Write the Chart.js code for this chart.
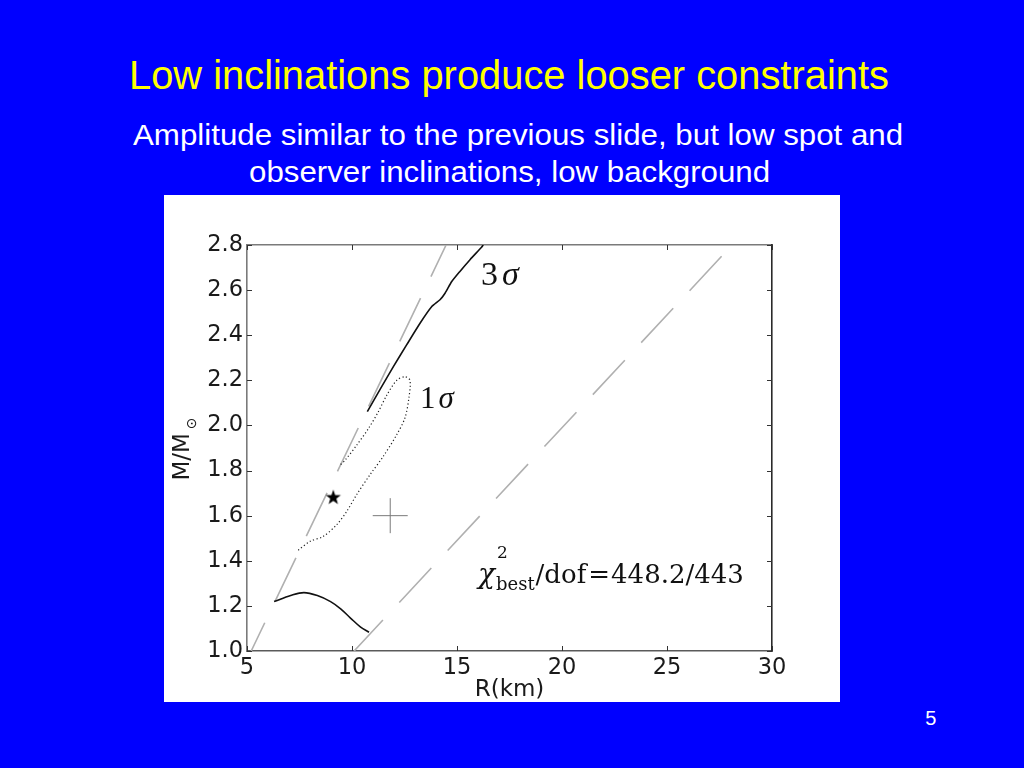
<!DOCTYPE html>
<html>
<head>
<meta charset="utf-8">
<script src="https://cdn.jsdelivr.net/npm/chart.js@4.4.0/dist/chart.umd.min.js"></script>
<style>
html,body{margin:0;padding:0;}
body{width:1024px;height:768px;background:#0000FF;position:relative;overflow:hidden;font-family:"Liberation Sans",Arial,sans-serif;}
.t{position:absolute;white-space:nowrap;transform-origin:0 0;line-height:1;font-family:"Liberation Sans",Arial,sans-serif;}
#panel{position:absolute;left:164px;top:195px;width:676px;height:507px;background:#fff;}
#c{display:block;}
</style>
</head>
<body>
<div class="t" id="title" style="color:#ffff00;font-size:41px">Low inclinations produce looser constraints</div>
<div class="t" id="sub1" style="color:#ffffff;font-size:30px">Amplitude similar to the previous slide, but low spot and</div>
<div class="t" id="sub2" style="color:#ffffff;font-size:30px">observer inclinations, low background</div>
<div class="t" id="pg" style="color:#ffffff;font-size:20px">5</div>
<div id="panel"><canvas id="c" width="676" height="507"></canvas></div>
<script>
// ---------- data ----------
const xTicks = [5, 10, 15, 20, 25, 30];
const yTicks = [1.0, 1.2, 1.4, 1.6, 1.8, 2.0, 2.2, 2.4, 2.6, 2.8];

const leftLimitR = [14.48, 5.2];
const leftLimitM = [2.8, 1.0];
const rightLimitR = [27.6, 10.1];
const rightLimitM = [2.75, 1.0];

const sigma3UpperR = [10.73, 11.33, 11.97, 12.6, 13.24, 13.8, 14.19, 14.43, 14.75, 15.14, 15.62, 16.17, 16.25];
const sigma3UpperM = [2.061, 2.159, 2.261, 2.357, 2.453, 2.527, 2.557, 2.586, 2.638, 2.683, 2.735, 2.79, 2.8];

const sigma3LowerR = [6.29, 7.08, 7.71, 8.35, 8.98, 9.46, 9.94, 10.41, 10.81];
const sigma3LowerM = [1.219, 1.246, 1.259, 1.246, 1.219, 1.187, 1.145, 1.106, 1.083];

const sigma1R = [7.44, 8.0, 8.63, 9.27, 9.75, 10.22, 10.86, 11.49, 12.13, 12.52, 12.71, 12.76, 12.52, 12.13, 11.65, 11.25, 10.78, 10.22, 9.67, 9.43];
const sigma1M = [1.447, 1.486, 1.508, 1.56, 1.619, 1.693, 1.782, 1.863, 1.959, 2.033, 2.122, 2.2, 2.216, 2.2, 2.133, 2.06, 1.986, 1.912, 1.846, 1.824];

const starR = [9.11];
const starM = [1.68];
const bestR = [11.82];
const bestM = [1.60];

const label3 = {R: 16.14, M: 2.623};
const label1 = {R: 13.24, M: 2.078};
const labelChi = {R: 16.0, M: 1.302};

// ---------- slide text placement ----------
function place(id, left, baseline, inkW, centerX) {
  const el = document.getElementById(id);
  const fs = parseFloat(getComputedStyle(el).fontSize);
  const g = document.createElement('canvas').getContext('2d');
  g.font = fs + 'px "Liberation Sans"';
  const m = g.measureText(el.textContent);
  const ink = m.actualBoundingBoxLeft + m.actualBoundingBoxRight;
  const s = inkW ? inkW / ink : 1;
  let l;
  if (centerX !== undefined) {
    l = centerX - s * ((m.actualBoundingBoxRight - m.actualBoundingBoxLeft) / 2);
  } else {
    l = left + m.actualBoundingBoxLeft * s;
  }
  el.style.left = l + 'px';
  el.style.top = (baseline - 0.8467 * fs) + 'px';
  el.style.transform = 'scaleX(' + s + ')';
}
place('title', 131.5, 89.3, 756.5);
place('sub1', 133.3, 145, 768.4);
place('sub2', 250, 182, 518.3);
place('pg', 0, 724.5, null, 930.7);

// ---------- chart ----------
const zip = (a, b) => a.map((v, i) => ({x: v, y: b[i]}));

function starImg(r) {
  const c = document.createElement('canvas');
  const s = Math.ceil(r * 2 + 2);
  c.width = c.height = s;
  const g = c.getContext('2d');
  g.beginPath();
  for (let i = 0; i < 10; i++) {
    const rr = i % 2 ? r * 0.4 : r;
    const a = -Math.PI / 2 + i * Math.PI / 5;
    g.lineTo(s / 2 + rr * Math.cos(a), s / 2 + rr * Math.sin(a));
  }
  g.closePath();
  g.fillStyle = '#000';
  g.fill();
  return c;
}

const dashGray = '#b0b0b0';

const decor = {
  id: 'decor',
  afterDraw(chart) {
    const {ctx, chartArea: a, scales} = chart;
    const sx = scales.x, sy = scales.y;
    ctx.save();
    // inward tick marks on all four sides
    ctx.strokeStyle = '#333';
    ctx.lineWidth = 1;
    ctx.beginPath();
    xTicks.forEach(v => {
      const px = Math.round(sx.getPixelForValue(v)) + 0.5;
      ctx.moveTo(px, a.bottom); ctx.lineTo(px, a.bottom - 5);
      ctx.moveTo(px, a.top); ctx.lineTo(px, a.top + 5);
    });
    yTicks.forEach(v => {
      const py = Math.round(sy.getPixelForValue(v)) + 0.5;
      ctx.moveTo(a.left, py); ctx.lineTo(a.left + 5, py);
      ctx.moveTo(a.right, py); ctx.lineTo(a.right - 5, py);
    });
    ctx.stroke();

    ctx.fillStyle = '#111';
    ctx.textBaseline = 'alphabetic';
    ctx.textAlign = 'left';
    // 3 sigma
    let x = sx.getPixelForValue(label3.R), y = sy.getPixelForValue(label3.M);
    ctx.font = '34px "Liberation Serif"';
    ctx.fillText('3', x, y);
    let w = ctx.measureText('3').width;
    ctx.font = 'italic 34px "Liberation Serif"';
    ctx.fillText('σ', x + w + 4, y);
    // 1 sigma
    x = sx.getPixelForValue(label1.R); y = sy.getPixelForValue(label1.M);
    ctx.font = '31px "Liberation Serif"';
    ctx.fillText('1', x, y);
    w = ctx.measureText('1').width;
    ctx.font = 'italic 31px "Liberation Serif"';
    ctx.fillText('σ', x + w + 3, y);
    // chi^2 text
    x = sx.getPixelForValue(labelChi.R); y = sy.getPixelForValue(labelChi.M);
    ctx.font = 'italic 28px "DejaVu Serif"';
    ctx.fillText('χ', x, y);
    x += ctx.measureText('χ').width + 1;
    ctx.font = '17px "DejaVu Serif"';
    ctx.fillText('2', x + 1, y - 25);
    ctx.font = '18px "DejaVu Serif"';
    ctx.fillText('best', x, y + 7);
    x += ctx.measureText('best').width + 1;
    ctx.font = '26px "DejaVu Serif"';
    ctx.fillText('/dof', x, y);
    x += ctx.measureText('/dof').width + 2;
    ctx.fillText('=', x, y);
    x += ctx.measureText('=').width + 1;
    ctx.fillText('448.2/443', x, y);

    // y-axis title M/M_sun
    const cy = (a.top + a.bottom) / 2;
    ctx.translate(a.left - 58, cy);
    ctx.rotate(-Math.PI / 2);
    ctx.fillStyle = '#1a1a1a';
    ctx.font = '23px "DejaVu Sans"';
    const wm = ctx.measureText('M/M').width;
    ctx.font = '14px "DejaVu Sans"';
    const wo = ctx.measureText('⊙').width;
    const start = -(wm + 4 + wo) / 2 - 1;
    ctx.font = '23px "DejaVu Sans"';
    ctx.fillText('M/M', start, 0);
    ctx.font = '14px "DejaVu Sans"';
    ctx.fillText('⊙', start + wm + 4, 6.5);
    ctx.restore();
  }
};

const tickFont = {family: 'DejaVu Sans', size: 22.5};

new Chart(document.getElementById('c'), {
  type: 'scatter',
  data: {
    datasets: [
      {data: zip(starR, starM), pointStyle: starImg(8), pointRadius: 8, showLine: false},
      {data: zip(bestR, bestM), pointStyle: 'cross', pointRadius: 17.5, borderColor: '#7a7a7a', borderWidth: 1, showLine: false},
      {data: zip(sigma1R, sigma1M), showLine: true, pointRadius: 0, borderColor: '#222', borderWidth: 1.2, borderDash: [1.2, 2.4], tension: 0.3},
      {data: zip(sigma3UpperR, sigma3UpperM), showLine: true, pointRadius: 0, borderColor: '#111', borderWidth: 1.6, tension: 0.2},
      {data: zip(sigma3LowerR, sigma3LowerM), showLine: true, pointRadius: 0, borderColor: '#111', borderWidth: 1.6, tension: 0.35},
      {data: zip(leftLimitR, leftLimitM), showLine: true, pointRadius: 0, borderColor: dashGray, borderWidth: 1.6, borderDash: [48, 24], borderDashOffset: 13},
      {data: zip(rightLimitR, rightLimitM), showLine: true, pointRadius: 0, borderColor: dashGray, borderWidth: 1.6, borderDash: [47, 24], borderDashOffset: 0}
    ]
  },
  options: {
    responsive: false,
    animation: false,
    events: [],
    layout: {padding: 0},
    plugins: {legend: {display: false}, tooltip: {enabled: false}},
    scales: {
      x: {
        type: 'linear', position: 'bottom', min: 5, max: 30,
        afterBuildTicks: s => { s.ticks = xTicks.map(v => ({value: v})); },
        afterFit: s => { s.height = 51; },
        ticks: {font: tickFont, color: '#1a1a1a', padding: 4, maxRotation: 0, autoSkip: false, callback: v => String(v)},
        grid: {display: false, drawTicks: false},
        border: {display: true, color: '#5a5a5a', width: 1.6},
        title: {display: true, text: 'R(km)', font: {family: 'DejaVu Sans', size: 23, lineHeight: 1}, color: '#1a1a1a', padding: 0}
      },
      x2: {
        type: 'linear', position: 'top', min: 5, max: 30,
        afterFit: s => { s.height = 50; },
        ticks: {display: false},
        grid: {display: false, drawTicks: false},
        border: {display: true, color: '#7a7a7a', width: 1.6}
      },
      y: {
        type: 'linear', position: 'left', min: 1.0, max: 2.8,
        afterBuildTicks: s => { s.ticks = yTicks.map(v => ({value: v})); },
        afterFit: s => { s.width = 83; },
        ticks: {font: tickFont, color: '#1a1a1a', padding: 4, autoSkip: false, callback: v => Number(v).toFixed(1)},
        grid: {display: false, drawTicks: false},
        border: {display: true, color: '#7a7a7a', width: 1.6}
      },
      y2: {
        type: 'linear', position: 'right', min: 1.0, max: 2.8,
        afterFit: s => { s.width = 68; },
        ticks: {display: false},
        grid: {display: false, drawTicks: false},
        border: {display: true, color: '#2a2a2a', width: 1.6}
      }
    }
  },
  plugins: [decor]
});
</script>
</body>
</html>
